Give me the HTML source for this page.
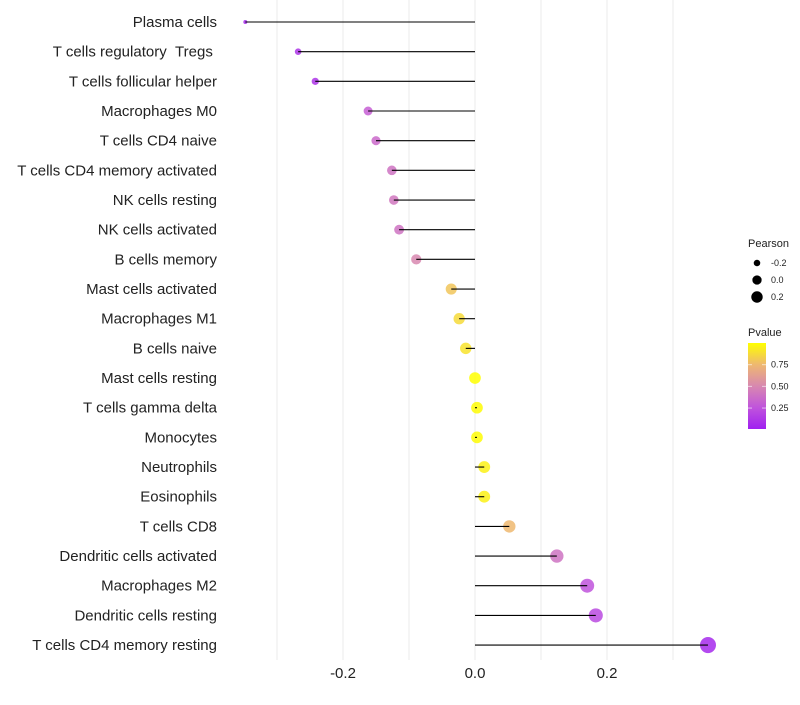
<!DOCTYPE html>
<html><head><meta charset="utf-8"><style>
body{margin:0;background:#fff;font-family:"Liberation Sans",sans-serif}
svg text{font-family:"Liberation Sans",sans-serif}
</style></head><body>
<svg id="chart" width="800" height="700"></svg>
<script>
const categories=["Plasma cells","T cells regulatory\u00a0\u00a0Tregs\u00a0","T cells follicular helper","Macrophages M0","T cells CD4 naive","T cells CD4 memory activated","NK cells resting","NK cells activated","B cells memory","Mast cells activated","Macrophages M1","B cells naive","Mast cells resting","T cells gamma delta","Monocytes","Neutrophils","Eosinophils","T cells CD8","Dendritic cells activated","Macrophages M2","Dendritic cells resting","T cells CD4 memory resting"];
const pearson=[-0.348,-0.268,-0.242,-0.162,-0.15,-0.126,-0.123,-0.115,-0.089,-0.036,-0.024,-0.014,0.0,0.003,0.003,0.014,0.014,0.052,0.124,0.17,0.183,0.353];
const pvalues=[0.05,0.1,0.1,0.3,0.35,0.4,0.42,0.4,0.5,0.8,0.87,0.9,1.0,0.99,0.99,0.95,0.95,0.75,0.4,0.25,0.2,0.05];
const xTicks=[-0.2,0.0,0.2];
const xTickLabels=["-0.2","0.0","0.2"];
const sizeLegendValues=[-0.2,0.0,0.2];
const colorLegendTicks=[0.25,0.5,0.75];

const NS="http://www.w3.org/2000/svg";
const svg=document.getElementById('chart');
function el(t,a,p){const e=document.createElementNS(NS,t);for(const k in a)e.setAttribute(k,a[k]);(p||svg).appendChild(e);return e;}
const xs=v=>475+660*v;
const ys=i=>22+i*29.67;
const rs=v=>1.1*Math.sqrt(Math.max(2.5,28+71*v));
const stops=[[0,[160,32,240]],[0.25,[192,84,220]],[0.5,[216,136,176]],[0.75,[238,184,112]],[1,[255,255,0]]];
function col(p){for(let i=0;i<stops.length-1;i++){const a=stops[i],b=stops[i+1];if(p<=b[0]){const t=(p-a[0])/(b[0]-a[0]);const c=a[1].map((x,j)=>Math.round(x+(b[1][j]-x)*t));return `rgb(${c})`;}}return 'rgb(255,255,0)';}
for(let v=-0.3;v<=0.31;v+=0.1){const g=el('line',{x1:xs(v),x2:xs(v),y1:0,y2:660,stroke:'#ebebeb','stroke-width':1});

}
xTicks.forEach((v,i)=>{const t=el('text',{x:xs(v),y:678,'text-anchor':'middle','font-size':15,fill:'#222'});t.textContent=xTickLabels[i];

});
categories.forEach((c,i)=>{const y=ys(i);
const t=el('text',{x:217,y:y+5,'text-anchor':'end','font-size':15,fill:'#222'});t.textContent=c;


const d=el('circle',{cx:xs(pearson[i]),cy:y,r:rs(pearson[i]),fill:col(pvalues[i]),'fill-opacity':0.85});


const l=el('line',{x1:xs(0),x2:xs(pearson[i]),y1:y,y2:y,stroke:'#000','stroke-width':1.1});

});
const st=el('text',{x:748,y:247,'font-size':11,fill:'#222'});st.textContent='Pearson';


sizeLegendValues.forEach((v,i)=>{const y=263+i*17;
const c=el('circle',{cx:757,cy:y,r:rs(v)*0.8,fill:'#000'});


const t=el('text',{x:771,y:y+3,'font-size':9,fill:'#222'});t.textContent=v===0?'0.0':v.toFixed(1);

});
const ct=el('text',{x:748,y:336,'font-size':11,fill:'#222'});ct.textContent='Pvalue';


const defs=el('defs',{});const gr=el('linearGradient',{id:'pg',x1:0,y1:1,x2:0,y2:0},defs);
stops.forEach(s=>el('stop',{offset:s[0],'stop-color':`rgb(${s[1]})`},gr));
const bar=el('rect',{x:748,y:343,width:18,height:86,fill:'url(#pg)'});


const cy=p=>428-(p-0.02)/0.98*85;
colorLegendTicks.forEach(p=>{const y=cy(p);
el('line',{x1:748,x2:752,y1:y,y2:y,stroke:'#fff','stroke-opacity':0.6});
el('line',{x1:762,x2:766,y1:y,y2:y,stroke:'#fff','stroke-opacity':0.6});
const t=el('text',{x:771,y:y+3,'font-size':9,fill:'#222'});t.textContent=p.toFixed(2);

});
</script>
</body></html>
